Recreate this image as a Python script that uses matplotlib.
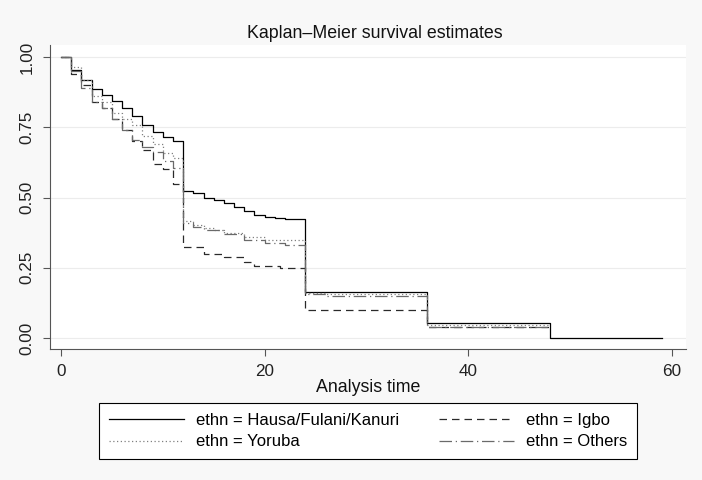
import matplotlib
matplotlib.use("Agg")
import matplotlib.pyplot as plt

plt.rcParams['font.family'] = ['Liberation Sans', 'DejaVu Sans']

# step times (months) and survival estimates
t_hausa = [0, 1, 2, 3, 4, 5, 6, 7, 8, 9, 10, 11, 12, 13, 14, 15, 16, 17, 18, 19, 20, 21, 22, 24, 36, 48, 59]
s_hausa = [1.0, 0.955, 0.92, 0.885, 0.865, 0.845, 0.82, 0.79, 0.76, 0.735, 0.715, 0.70,
           0.524, 0.515, 0.50, 0.492, 0.48, 0.467, 0.452, 0.437, 0.43, 0.426, 0.423, 0.163, 0.052, 0.0, 0.0]

t_igbo = [0, 1, 2, 3, 4, 5, 6, 7, 8, 9, 10, 11, 12, 14, 16, 18, 19, 21.5, 24, 36, 48]
s_igbo = [1.0, 0.94, 0.90, 0.84, 0.82, 0.78, 0.74, 0.70, 0.67, 0.62, 0.60, 0.55,
          0.325, 0.298, 0.29, 0.272, 0.256, 0.248, 0.10, 0.04, 0.04]

t_yoruba = [0, 1, 2, 3, 4, 5, 6, 7, 8, 9, 10, 11, 12, 13, 14, 15, 16, 18, 20, 24, 26, 36, 48]
s_yoruba = [1.0, 0.965, 0.92, 0.86, 0.84, 0.80, 0.78, 0.76, 0.72, 0.69, 0.66, 0.64,
            0.418, 0.402, 0.39, 0.384, 0.375, 0.358, 0.35, 0.16, 0.155, 0.045, 0.045]

t_others = [0, 1, 2, 3, 4, 5, 6, 7, 8, 9, 10, 11, 12, 13, 14, 16, 18, 20, 22, 24, 26, 36, 48]
s_others = [1.0, 0.95, 0.89, 0.84, 0.82, 0.78, 0.74, 0.705, 0.68, 0.663, 0.63, 0.605,
            0.41, 0.395, 0.385, 0.37, 0.349, 0.339, 0.331, 0.155, 0.148, 0.04, 0.04]

labels = ["ethn = Hausa/Fulani/Kanuri", "ethn = Igbo", "ethn = Yoruba", "ethn = Others"]
xticks = [0, 20, 40, 60]
yticks = [0.0, 0.25, 0.5, 0.75, 1.0]

bg = "#f8f8f8"
fig = plt.figure(figsize=(7.02, 4.8), dpi=100, facecolor=bg)
ax = fig.add_axes([50/702, 1-349/480, 636/702, 304/480])
ax.set_facecolor("white")

lw = 0.9
l1, = ax.step(t_hausa, s_hausa, where="post", color="black", lw=lw)
l2, = ax.step(t_igbo, s_igbo, where="post", color="#2a2a2a", lw=lw, dashes=(6, 4))
l3, = ax.step(t_yoruba, s_yoruba, where="post", color="#808080", lw=lw, dashes=(1, 2))
l4, = ax.step(t_others, s_others, where="post", color="#6a6a6a", lw=lw, dashes=(10, 3, 1, 3))

ax.set_xlim(-1.08, 61.4)
ax.set_ylim(-0.039, 1.043)
ax.set_xticks(xticks)
ax.set_yticks(yticks)
ax.set_yticklabels(["%.2f" % v for v in yticks], rotation=90, va="center")
ax.tick_params(length=5, width=0.8, color="#555555", labelsize=12.3, labelcolor="#222222", pad=6)
for side in ["top", "right"]:
    ax.spines[side].set_visible(False)
for side in ["left", "bottom"]:
    ax.spines[side].set_color("#555555")
    ax.spines[side].set_linewidth(0.8)
ax.grid(axis="y", color="#ececec", lw=0.8)
ax.set_axisbelow(True)

ax.set_xlabel("Analysis time", fontsize=12.8, labelpad=0, color="#111111")
fig.text(375/702, 1-33/480, "Kaplan\u2013Meier survival estimates", ha="center", va="center",
         fontsize=12.8, color="#111111")

# legend fills column-wise, so order handles to get Hausa/Igbo on row 1
handles = [l1, l3, l2, l4]
leg_labels = [labels[0], labels[2], labels[1], labels[3]]
leg = fig.legend(handles, leg_labels, ncol=2, loc="center",
                 bbox_to_anchor=(368/702, 1-431/480), fontsize=12,
                 frameon=True, fancybox=False, edgecolor="black", facecolor="white",
                 handlelength=4.5, handletextpad=0.7, columnspacing=2.4,
                 borderpad=0.6, labelspacing=0.4)
leg.get_frame().set_linewidth(0.8)
leg.get_frame().set_alpha(1)

fig.savefig("out.png", dpi=100, facecolor=bg)
